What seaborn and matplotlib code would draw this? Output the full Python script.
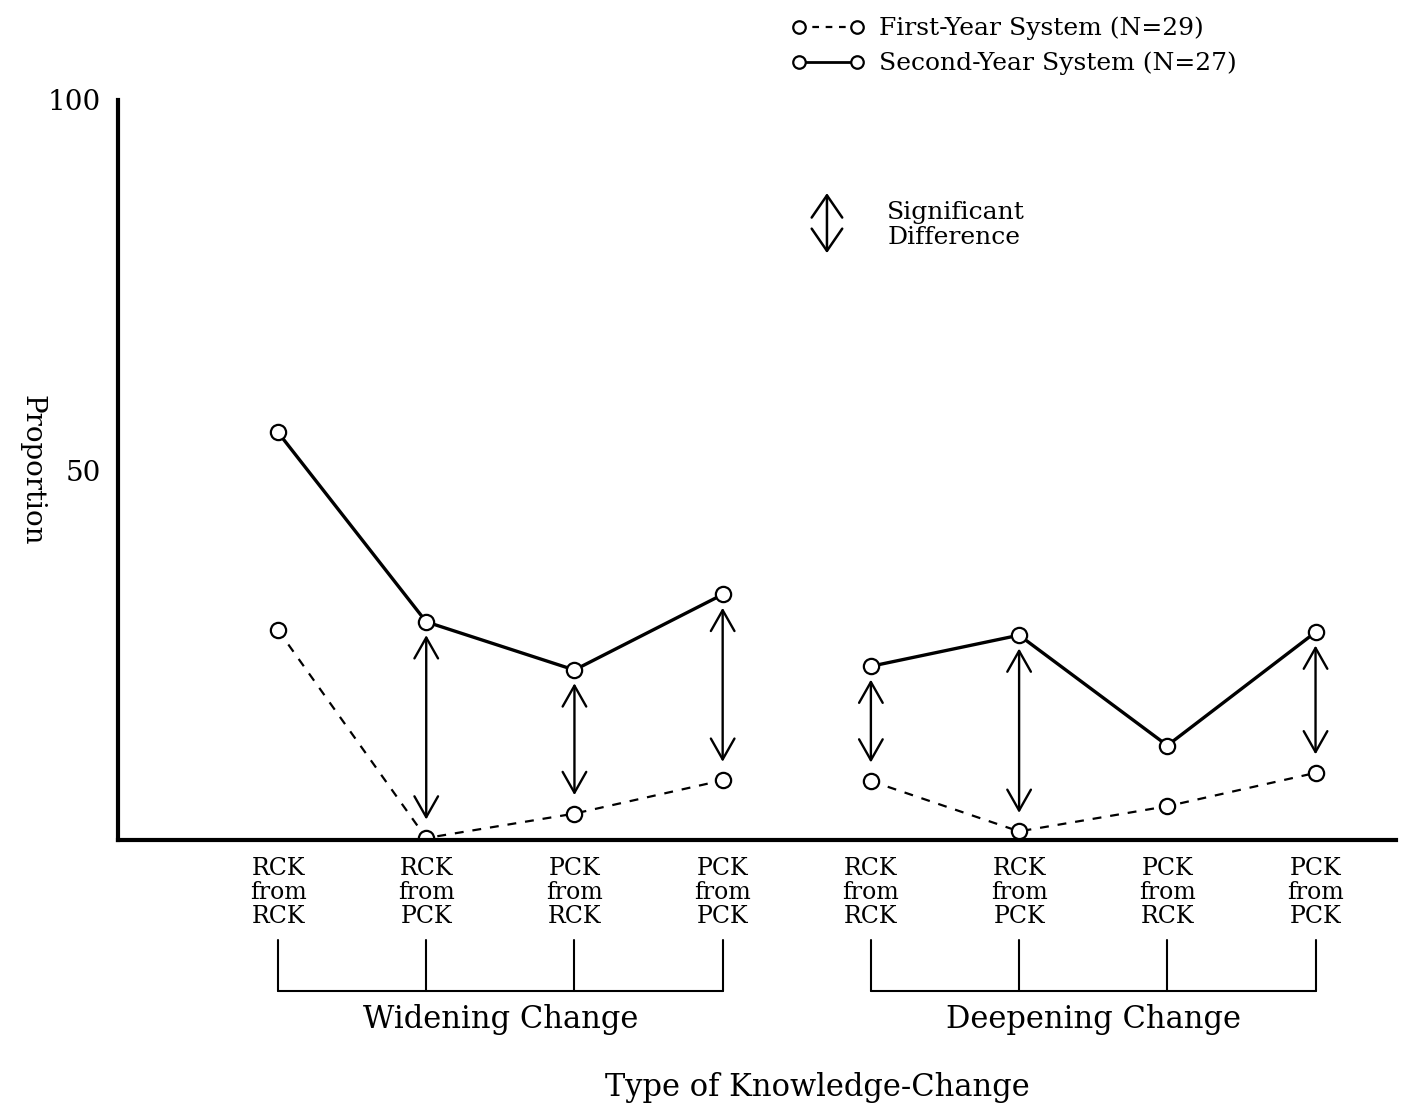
import numpy as np
import pandas as pd
import seaborn as sns
import matplotlib.pyplot as plt
from matplotlib.lines import Line2D
from matplotlib import transforms

# data
tick_labels = ["RCK\nfrom\nRCK", "RCK\nfrom\nPCK", "PCK\nfrom\nRCK", "PCK\nfrom\nPCK",
               "RCK\nfrom\nRCK", "RCK\nfrom\nPCK", "PCK\nfrom\nRCK", "PCK\nfrom\nPCK"]
first_year = [28.4, 0.3, 3.6, 8.1, 8.0, 1.2, 4.6, 9.1]
second_year = [55.1, 29.5, 23.0, 33.2, 23.5, 27.7, 12.8, 28.1]
significant = [1, 2, 3, 4, 5, 7]
groups = ["Widening Change", "Deepening Change"]
group_members = [[0, 1, 2, 3], [4, 5, 6, 7]]

sns.set_style("white")
plt.rcParams['font.family'] = ['DejaVu Serif']
plt.rcParams['text.color'] = 'black'
plt.rcParams['xtick.color'] = 'black'
plt.rcParams['ytick.color'] = 'black'
plt.rcParams['axes.labelcolor'] = 'black'

pos = np.arange(len(tick_labels))
df = pd.DataFrame({"pos": pos, "first": first_year, "second": second_year})

fig = plt.figure(figsize=(14.04, 11.10), dpi=100)
ax = fig.add_axes([0.084, 0.243, 0.91, 0.667])

mk = dict(marker='o', markersize=11, markerfacecolor='white',
          markeredgecolor='black', markeredgewidth=1.6)
for members in group_members:
    sub = df.iloc[members]
    sns.lineplot(data=sub, x="pos", y="second", ax=ax, color='black', lw=2.4, **mk)
    sns.lineplot(data=sub, x="pos", y="first", ax=ax, color='black', lw=1.6,
                 linestyle=(0, (4, 4)), **mk)

arrow_style = '<->,head_length=1.5,head_width=0.85'

# significant-difference arrows
for i in significant:
    ax.annotate("", xy=(pos[i], first_year[i] + 2.5), xytext=(pos[i], second_year[i] - 1.8),
                arrowprops=dict(arrowstyle=arrow_style, color='black', lw=1.7,
                                shrinkA=0, shrinkB=0))

ax.set_xlim(-1.08, 7.54)
ax.set_ylim(0, 100)
ax.set_yticks([50, 100])
ax.set_yticklabels(["50", "100"], fontsize=20)
ax.set_xticks(pos)
ax.set_xticklabels(tick_labels, fontsize=17, linespacing=1.05)
ax.tick_params(axis='both', length=0, pad=12)
ax.set_xlabel("")
ax.set_ylabel("Proportion", fontsize=20, rotation=270, labelpad=30)
ax.yaxis.set_label_coords(-0.078, 0.5)

for s in ['top', 'right']:
    ax.spines[s].set_visible(False)
for s in ['left', 'bottom']:
    ax.spines[s].set_linewidth(3)
    ax.spines[s].set_color('black')

# group brackets under the tick labels
trans = transforms.blended_transform_factory(ax.transData, ax.transAxes)
for name, members in zip(groups, group_members):
    xs = [pos[m] for m in members]
    for x in xs:
        ax.plot([x, x], [-0.135, -0.203], color='black', lw=1.5, transform=trans, clip_on=False)
    ax.plot([xs[0], xs[-1]], [-0.203, -0.203], color='black', lw=1.5, transform=trans, clip_on=False)
    ax.text(np.mean(xs), -0.242, name, fontsize=22, ha='center', va='center', transform=trans)

fig.text(0.582, 0.02, "Type of Knowledge-Change", fontsize=22, ha='center', va='center')

# legend at top
handles = [Line2D([0], [0], color='black', lw=1.6, linestyle=(0, (3, 3)), **mk),
           Line2D([0], [0], color='black', lw=2.0, **mk)]
for h in handles:
    h.set_markersize(9)
fig.legend(handles, ["First-Year System (N=29)", "Second-Year System (N=27)"],
           loc='upper left', bbox_to_anchor=(0.548, 1.005), frameon=False,
           fontsize=18, numpoints=2, handlelength=2.9, handletextpad=0.6, labelspacing=0.45)

ax.annotate("", xy=(0.589, 0.772), xytext=(0.589, 0.826), xycoords='figure fraction',
            textcoords='figure fraction',
            arrowprops=dict(arrowstyle='<->,head_length=1.6,head_width=1.1',
                            color='black', lw=1.8, shrinkA=0, shrinkB=0))
fig.text(0.632, 0.797, "Significant\nDifference", fontsize=18, ha='left', va='center',
         linespacing=1.1)

fig.savefig("out.png", dpi=100)
